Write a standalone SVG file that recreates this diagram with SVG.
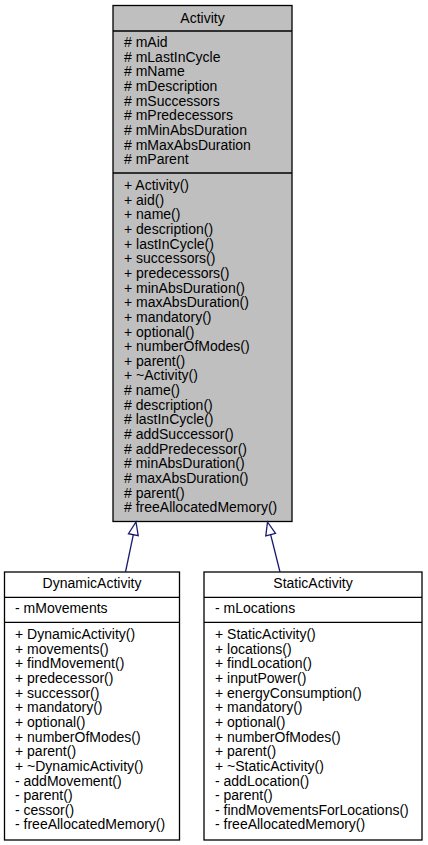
<svg xmlns="http://www.w3.org/2000/svg" width="428" height="845" viewBox="0 0 428 845">
<style>
  text { font-family: "Liberation Sans", Arial, Helvetica, sans-serif; font-size: 14px; fill: #000; }
  .title { text-anchor: middle; }
  .box { stroke: #000; stroke-width: 1.3; }
  .sep { stroke: #000; stroke-width: 1.3; fill: none; }
  .edge { stroke: #191970; stroke-width: 1.3; fill: none; }
  .head { stroke: #191970; stroke-width: 1.3; fill: #fff; }
</style>
<rect x="0" y="0" width="428" height="845" fill="#fff"/>
<g id="Activity">
  <rect class="box" x="113" y="5.5" width="179" height="516" fill="#bfbfbf"/>
  <line class="sep" x1="113" y1="31" x2="292" y2="31"/>
  <line class="sep" x1="113" y1="173" x2="292" y2="173"/>
  <text class="title" x="202.5" y="22.7">Activity</text>
  <text>
    <tspan x="124" y="47"># mAid</tspan>
    <tspan x="124" y="61.65"># mLastInCycle</tspan>
    <tspan x="124" y="76.3"># mName</tspan>
    <tspan x="124" y="90.95"># mDescription</tspan>
    <tspan x="124" y="105.6"># mSuccessors</tspan>
    <tspan x="124" y="120.25"># mPredecessors</tspan>
    <tspan x="124" y="134.9"># mMinAbsDuration</tspan>
    <tspan x="124" y="149.55"># mMaxAbsDuration</tspan>
    <tspan x="124" y="164.2"># mParent</tspan>
  </text>
  <text>
    <tspan x="124" y="190">+ Activity()</tspan>
    <tspan x="124" y="204.65">+ aid()</tspan>
    <tspan x="124" y="219.3">+ name()</tspan>
    <tspan x="124" y="233.95">+ description()</tspan>
    <tspan x="124" y="248.6">+ lastInCycle()</tspan>
    <tspan x="124" y="263.25">+ successors()</tspan>
    <tspan x="124" y="277.9">+ predecessors()</tspan>
    <tspan x="124" y="292.55">+ minAbsDuration()</tspan>
    <tspan x="124" y="307.2">+ maxAbsDuration()</tspan>
    <tspan x="124" y="321.85">+ mandatory()</tspan>
    <tspan x="124" y="336.5">+ optional()</tspan>
    <tspan x="124" y="351.15">+ numberOfModes()</tspan>
    <tspan x="124" y="365.8">+ parent()</tspan>
    <tspan x="124" y="380.45">+ ~Activity()</tspan>
    <tspan x="124" y="395.1"># name()</tspan>
    <tspan x="124" y="409.75"># description()</tspan>
    <tspan x="124" y="424.4"># lastInCycle()</tspan>
    <tspan x="124" y="439.05"># addSuccessor()</tspan>
    <tspan x="124" y="453.7"># addPredecessor()</tspan>
    <tspan x="124" y="468.35"># minAbsDuration()</tspan>
    <tspan x="124" y="483"># maxAbsDuration()</tspan>
    <tspan x="124" y="497.65"># parent()</tspan>
    <tspan x="124" y="512.3"># freeAllocatedMemory()</tspan>
  </text>
</g>
<g id="DynamicActivity">
  <rect class="box" x="4.5" y="572" width="175" height="268" fill="#fff"/>
  <line class="sep" x1="4.5" y1="597.3" x2="179.5" y2="597.3"/>
  <line class="sep" x1="4.5" y1="622.3" x2="179.5" y2="622.3"/>
  <text class="title" x="92" y="588.3">DynamicActivity</text>
  <text x="15" y="613.3">- mMovements</text>
  <text>
    <tspan x="15" y="639">+ DynamicActivity()</tspan>
    <tspan x="15" y="653.65">+ movements()</tspan>
    <tspan x="15" y="668.3">+ findMovement()</tspan>
    <tspan x="15" y="682.95">+ predecessor()</tspan>
    <tspan x="15" y="697.6">+ successor()</tspan>
    <tspan x="15" y="712.25">+ mandatory()</tspan>
    <tspan x="15" y="726.9">+ optional()</tspan>
    <tspan x="15" y="741.55">+ numberOfModes()</tspan>
    <tspan x="15" y="756.2">+ parent()</tspan>
    <tspan x="15" y="770.85">+ ~DynamicActivity()</tspan>
    <tspan x="15" y="785.5">- addMovement()</tspan>
    <tspan x="15" y="800.15">- parent()</tspan>
    <tspan x="15" y="814.8">- cessor()</tspan>
    <tspan x="15" y="829.45">- freeAllocatedMemory()</tspan>
  </text>
</g>
<g id="StaticActivity">
  <rect class="box" x="204" y="572" width="218" height="268" fill="#fff"/>
  <line class="sep" x1="204" y1="597.3" x2="422" y2="597.3"/>
  <line class="sep" x1="204" y1="622.3" x2="422" y2="622.3"/>
  <text class="title" x="313" y="588.3">StaticActivity</text>
  <text x="215" y="613.3">- mLocations</text>
  <text>
    <tspan x="215" y="639">+ StaticActivity()</tspan>
    <tspan x="215" y="653.65">+ locations()</tspan>
    <tspan x="215" y="668.3">+ findLocation()</tspan>
    <tspan x="215" y="682.95">+ inputPower()</tspan>
    <tspan x="215" y="697.6">+ energyConsumption()</tspan>
    <tspan x="215" y="712.25">+ mandatory()</tspan>
    <tspan x="215" y="726.9">+ optional()</tspan>
    <tspan x="215" y="741.55">+ numberOfModes()</tspan>
    <tspan x="215" y="756.2">+ parent()</tspan>
    <tspan x="215" y="770.85">+ ~StaticActivity()</tspan>
    <tspan x="215" y="785.5">- addLocation()</tspan>
    <tspan x="215" y="800.15">- parent()</tspan>
    <tspan x="215" y="814.8">- findMovementsForLocations()</tspan>
    <tspan x="215" y="829.45">- freeAllocatedMemory()</tspan>
  </text>
</g>
<g id="connectors">
  <line class="edge" x1="125.5" y1="572" x2="133.33" y2="534.72"/>
  <polygon class="head" points="136,522 138.22,535.75 128.44,533.69"/>
  <line class="edge" x1="280" y1="572" x2="270.65" y2="534.61"/>
  <polygon class="head" points="267.5,522 275.5,533.4 265.8,535.8"/>
</g>
</svg>
